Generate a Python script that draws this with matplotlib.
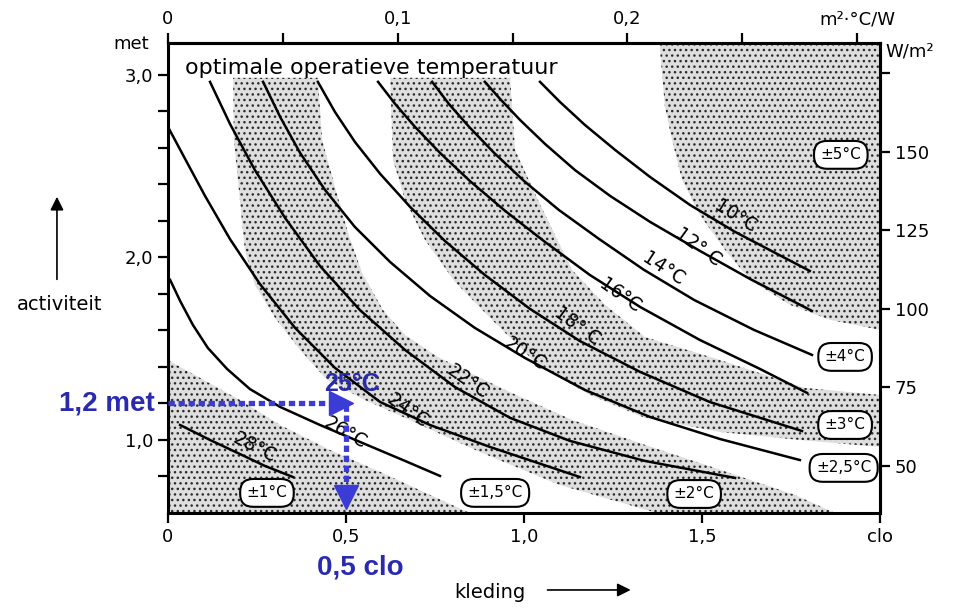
import numpy as np
import matplotlib.pyplot as plt

plt.rcParams['font.family'] = ['DejaVu Sans']

# as-indeling: kleding (clo) horizontaal, activiteit (met) verticaal
clo_ticks = [0, 0.5, 1.0, 1.5, 2.0]
clo_labels = ['0', '0,5', '1,0', '1,5', 'clo']
met_ticks = [1.0, 2.0, 3.0]
met_labels = ['1,0', '2,0', '3,0']
met_minor = [0.8, 1.2, 1.4, 1.6, 1.8, 2.2, 2.4, 2.6, 2.8]
r_ticks = [0, 0.05, 0.1, 0.15, 0.2, 0.25, 0.3]
r_labels = ['0', '', '0,1', '', '0,2', '', 'm²·°C/W']
w_ticks = [50, 75, 100, 125, 150, 175]
w_labels = ['50', '75', '100', '125', '150', '']

# lijnen van gelijke optimale operatieve temperatuur (clo, met)
t10_clo = [1.045, 1.101, 1.171, 1.256, 1.354, 1.466, 1.593, 1.733, 1.803]
t10_met = [2.962, 2.852, 2.726, 2.589, 2.441, 2.288, 2.140, 1.997, 1.926]
t12_clo = [0.890, 0.933, 0.989, 1.059, 1.143, 1.242, 1.354, 1.494, 1.635, 1.809]
t12_met = [2.962, 2.868, 2.753, 2.622, 2.479, 2.337, 2.195, 2.036, 1.882, 1.707]
t14_clo = [0.742, 0.789, 0.846, 0.916, 1.000, 1.098, 1.211, 1.337, 1.478, 1.646, 1.809]
t14_met = [2.962, 2.841, 2.715, 2.573, 2.419, 2.260, 2.101, 1.932, 1.767, 1.603, 1.466]
t16_clo = [0.590, 0.638, 0.694, 0.764, 0.848, 0.947, 1.059, 1.185, 1.326, 1.494, 1.663, 1.795]
t16_met = [2.962, 2.841, 2.715, 2.573, 2.419, 2.255, 2.085, 1.904, 1.729, 1.548, 1.389, 1.258]
t18_clo = [0.421, 0.469, 0.525, 0.596, 0.680, 0.778, 0.890, 1.017, 1.157, 1.326, 1.522, 1.781]
t18_met = [2.962, 2.797, 2.633, 2.458, 2.277, 2.090, 1.904, 1.718, 1.542, 1.373, 1.208, 1.049]
t20_clo = [0.267, 0.315, 0.371, 0.441, 0.525, 0.624, 0.736, 0.862, 1.003, 1.171, 1.354, 1.551, 1.775]
t20_met = [2.962, 2.770, 2.573, 2.370, 2.167, 1.975, 1.789, 1.614, 1.449, 1.274, 1.126, 1.005, 0.890]
t22_clo = [0.118, 0.174, 0.244, 0.329, 0.427, 0.539, 0.666, 0.806, 0.961, 1.129, 1.340, 1.593]
t22_met = [2.962, 2.732, 2.479, 2.216, 1.953, 1.712, 1.493, 1.290, 1.121, 0.995, 0.885, 0.792]
t24_clo = [0.0, 0.048, 0.104, 0.174, 0.258, 0.357, 0.469, 0.596, 0.736, 0.904, 1.157]
t24_met = [2.715, 2.540, 2.337, 2.101, 1.855, 1.614, 1.395, 1.208, 1.082, 0.962, 0.797]
t26_clo = [0.006, 0.034, 0.070, 0.112, 0.166, 0.230, 0.315, 0.427, 0.553, 0.666, 0.764]
t26_met = [1.877, 1.762, 1.630, 1.504, 1.389, 1.279, 1.181, 1.082, 0.978, 0.885, 0.803]
t28_clo = [0.034, 0.118, 0.202, 0.272, 0.351]
t28_met = [1.082, 1.000, 0.923, 0.858, 0.797]

temp_labels = ['10°C', '12° C', '14°C', '16°C', '18° C', '20°C', '22°C', '24°C', '26°C', '28°C']

# gestippelde toleranties (±1, ±2, ±3, ±5 °C)
z1_clo = [0, 0.090, 0.202, 0.315, 0.455, 0.596, 0.736, 0.848, 0]
z1_met = [1.438, 1.340, 1.219, 1.082, 0.945, 0.825, 0.699, 0.600, 0.600]
z2_clo = [0.183, 0.185, 0.202, 0.216, 0.244, 0.301, 0.371, 0.447, 0.553, 0.666, 0.876, 1.101, 1.374,
          1.874, 1.761, 1.528, 1.340, 1.135, 0.947, 0.758, 0.666, 0.604, 0.545, 0.506, 0.469, 0.433, 0.421]
z2_met = [2.984, 2.644, 2.315, 2.041, 1.849, 1.668, 1.493, 1.329, 1.219, 1.121, 0.934, 0.753, 0.600,
          0.600, 0.699, 0.852, 0.973, 1.110, 1.274, 1.455, 1.575, 1.712, 1.915, 2.134, 2.386, 2.644, 2.984]
z3_clo = [0.624, 0.961, 0.975, 1.039, 1.135, 1.228, 1.340, 1.551, 1.789, 2.0,
          2.0, 1.775, 1.551, 1.340, 1.185, 1.039, 0.919, 0.806, 0.722, 0.666, 0.632]
z3_met = [2.984, 2.984, 2.589, 2.315, 1.932, 1.740, 1.564, 1.438, 1.285, 1.247,
          0.962, 1.000, 1.044, 1.121, 1.247, 1.411, 1.641, 1.866, 2.096, 2.315, 2.534]
z5_clo = [1.382, 2.0, 2.0, 1.860, 1.747, 1.635, 1.565, 1.494, 1.444, 1.416, 1.396, 1.382]
z5_met = [3.175, 3.175, 1.603, 1.658, 1.740, 1.877, 2.041, 2.233, 2.425, 2.644, 2.825, 3.137]

tol_labels = ['±1°C', '±1,5°C', '±2°C', '±2,5°C', '±3°C', '±4°C', '±5°C']

fig = plt.figure(figsize=(9.54, 6.12), dpi=100)
ax = fig.add_axes([0.1761, 0.1618, 0.7463, 0.768])
ax.set_xlim(0, 2.0)
ax.set_ylim(0.6, 3.175)

stip = dict(facecolor='#dedede', edgecolor='#2a2a2a', hatch='...', linewidth=0, zorder=1)
for zc, zm in [(z1_clo, z1_met), (z2_clo, z2_met), (z3_clo, z3_met), (z5_clo, z5_met)]:
    ax.fill(zc, zm, **stip)

curves = [(t10_clo, t10_met), (t12_clo, t12_met), (t14_clo, t14_met), (t16_clo, t16_met),
          (t18_clo, t18_met), (t20_clo, t20_met), (t22_clo, t22_met), (t24_clo, t24_met),
          (t26_clo, t26_met), (t28_clo, t28_met)]
for c, m in curves:
    ax.plot(c, m, color='black', lw=1.8, zorder=3, solid_joinstyle='round')

# temperatuurlabels langs de lijnen
lab_pos = [(1.593, 2.225, -32), (1.489, 2.060, -36), (1.392, 1.935, -33), (1.270, 1.790, -35),
           (1.149, 1.625, -36), (1.003, 1.470, -33), (0.843, 1.322, -35), (0.674, 1.158, -35),
           (0.497, 1.040, -30), (0.244, 0.956, -27)]
for txt, (x, y, r) in zip(temp_labels, lab_pos):
    ax.text(x, y, txt, rotation=r, ha='center', va='center', fontsize=13.5, zorder=4)

box_pos = [(0.278, 0.710), (0.919, 0.710), (1.478, 0.704), (1.898, 0.847),
           (1.902, 1.082), (1.902, 1.455), (1.890, 2.562)]
for txt, (x, y) in zip(tol_labels, box_pos):
    ax.text(x, y, txt, ha='center', va='center', fontsize=11, zorder=5,
            bbox=dict(boxstyle='round,pad=0.42,rounding_size=0.85', fc='white', ec='black', lw=1.5))

ax.text(0.048, 3.04, 'optimale operatieve temperatuur', fontsize=16, ha='left', va='center', zorder=5)

# voorbeeld: 1,2 met en 0,5 clo
blue_txt = '#2a2ab0'
blue_line = '#3b3bd6'
ax.plot([0, 0.47], [1.2, 1.2], color=blue_line, lw=3.8, ls=(0, (1.2, 0.7)), zorder=6, clip_on=False)
ax.plot([0.487], [1.2], marker='>', ms=17, color=blue_line, zorder=6)
ax.plot([0.5, 0.5], [1.19, 0.72], color=blue_line, lw=3.8, ls=(0, (1.2, 0.7)), zorder=6)
ax.plot([0.5], [0.69], marker='v', ms=17, color=blue_line, zorder=6, clip_on=False)
ax.text(0.517, 1.307, '25°C', color=blue_txt, fontsize=18, fontweight='bold',
        family='Liberation Sans', ha='center', va='center', zorder=7)
ax.text(-0.037, 1.2, '1,2 met', color=blue_txt, fontsize=20, fontweight='bold',
        family='Liberation Sans', ha='right', va='center', clip_on=False)
ax.text(0.54, 0.304, '0,5 clo', color=blue_txt, fontsize=20, fontweight='bold',
        family='Liberation Sans', ha='center', va='center', clip_on=False)

# assen
ax.set_xticks(clo_ticks, clo_labels)
ax.set_yticks(met_ticks, met_labels)
ax.set_yticks(met_minor, minor=True)
ax.tick_params(which='both', direction='out', length=7, width=1.6, labelsize=13)
for s in ax.spines.values():
    s.set_linewidth(2.2)

secx = ax.secondary_xaxis('top', functions=(lambda c: c * 0.155, lambda r: r / 0.155))
secx.set_xticks(r_ticks, r_labels)
secx.tick_params(direction='out', length=7, width=1.6, labelsize=13)
secx.spines['top'].set_linewidth(2.2)

secy = ax.secondary_yaxis('right', functions=(lambda m: m * 58.15, lambda w: w / 58.15))
secy.set_yticks(w_ticks, w_labels)
secy.tick_params(direction='out', length=7, width=1.6, labelsize=13)
secy.spines['right'].set_linewidth(2.2)

fig.text(0.138, 0.928, 'met', fontsize=13, ha='center', va='center')
fig.text(0.954, 0.916, 'W/m²', fontsize=13, ha='center', va='center')
fig.text(0.063, 0.502, 'activiteit', fontsize=14, ha='center', va='center')
fig.text(0.514, 0.032, 'kleding', fontsize=14, ha='center', va='center')
ax.annotate('', xy=(0.0597, 0.683), xytext=(0.0597, 0.539), xycoords='figure fraction',
            arrowprops=dict(arrowstyle='-|>', color='black', lw=1.2, mutation_scale=20))
ax.annotate('', xy=(0.664, 0.036), xytext=(0.571, 0.036), xycoords='figure fraction',
            arrowprops=dict(arrowstyle='-|>', color='black', lw=1.2, mutation_scale=20))

fig.savefig('out.png', dpi=100)
